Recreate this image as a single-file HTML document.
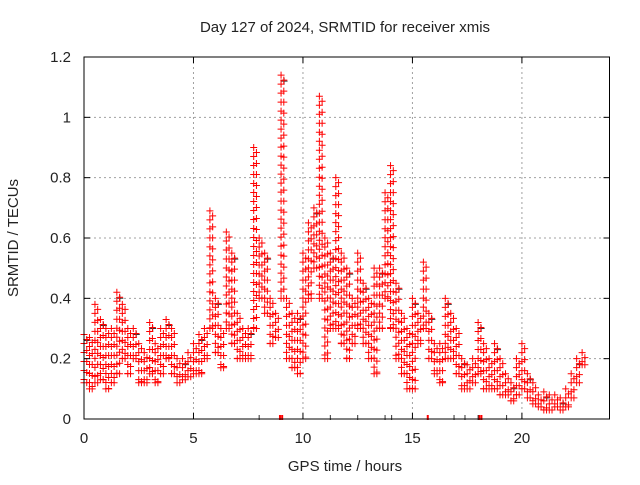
<!DOCTYPE html>
<html><head><meta charset="utf-8"><style>
body{margin:0;background:#fff}
svg text{font-family:"Liberation Sans",sans-serif;font-size:15px;fill:#222}
</style></head><body>
<svg id="chart" width="640" height="480" viewBox="0 0 640 480" xmlns="http://www.w3.org/2000/svg">
<text x="345" y="32" text-anchor="middle">Day 127 of 2024, SRMTID for receiver xmis</text>
<text transform="translate(18,238) rotate(-90)" text-anchor="middle">SRMTID / TECUs</text>
<text x="345" y="471" text-anchor="middle">GPS time / hours</text>
<g id="grid"></g>
<g id="marks"></g>
<rect x="84" y="57" width="525.5" height="362" fill="none" stroke="#000" stroke-width="1"/>
<g id="axes"></g>
</svg>
<script>
const hours=[0,0.25,0.5,0.75,1,1.25,1.5,1.75,2,2.25,2.5,2.75,3,3.25,3.5,3.75,4,4.25,4.5,4.75,5,5.25,5.5,5.75,6,6.25,6.5,6.75,7,7.25,7.5,7.75,8,8.25,8.5,8.75,9,9.25,9.5,9.75,10,10.25,10.5,10.75,11,11.25,11.5,11.75,12,12.25,12.5,12.75,13,13.25,13.5,13.75,14,14.25,14.5,14.75,15,15.25,15.5,15.75,16,16.25,16.5,16.75,17,17.25,17.5,17.75,18,18.25,18.5,18.75,19,19.25,19.5,19.75,20,20.25,20.5,20.75,21,21.25,21.5,21.75,22,22.25,22.5,22.75];
const lowVals=[0.12,0.1,0.12,0.13,0.1,0.12,0.15,0.2,0.15,0.2,0.12,0.12,0.15,0.12,0.15,0.2,0.15,0.12,0.13,0.14,0.15,0.15,0.2,0.3,0.22,0.17,0.3,0.25,0.2,0.2,0.2,0.3,0.4,0.35,0.25,0.27,0.4,0.2,0.17,0.15,0.2,0.4,0.5,0.4,0.2,0.3,0.3,0.25,0.2,0.25,0.3,0.25,0.2,0.15,0.3,0.4,0.3,0.2,0.15,0.1,0.1,0.25,0.3,0.2,0.15,0.12,0.2,0.2,0.15,0.1,0.1,0.12,0.15,0.1,0.1,0.1,0.08,0.08,0.06,0.08,0.1,0.07,0.05,0.04,0.03,0.03,0.04,0.03,0.04,0.07,0.12,0.18];
const highVals=[0.28,0.27,0.38,0.33,0.3,0.3,0.42,0.38,0.3,0.3,0.25,0.22,0.32,0.25,0.3,0.33,0.3,0.2,0.2,0.22,0.25,0.28,0.3,0.69,0.4,0.3,0.62,0.55,0.35,0.3,0.3,0.9,0.6,0.55,0.4,0.35,1.14,0.4,0.35,0.35,0.55,0.65,0.7,1.07,0.6,0.55,0.8,0.55,0.5,0.4,0.55,0.45,0.4,0.5,0.5,0.75,0.84,0.45,0.35,0.3,0.4,0.35,0.52,0.35,0.25,0.25,0.4,0.35,0.3,0.2,0.18,0.2,0.32,0.25,0.2,0.25,0.2,0.15,0.12,0.2,0.25,0.15,0.12,0.08,0.09,0.08,0.08,0.07,0.1,0.15,0.2,0.22];
const gapRed=[8.95,9.05,15.7,18.05,18.15];
const gapBlack=[8,11.25,12.5,13.75,14.05,16.9,17.4,18.0,19.3];
const yTicks=[0,0.2,0.4,0.6,0.8,1,1.2];
const xTicks=[0,5,10,15,20];
const NS='http://www.w3.org/2000/svg';
const X=h=>84+h*(525.5/24);
const Y=v=>419-v*(362/1.2);
function mk(tag,attrs,parent){const e=document.createElementNS(NS,tag);for(const k in attrs)e.setAttribute(k,attrs[k]);parent.appendChild(e);return e;}
const grid=document.getElementById('grid'),axes=document.getElementById('axes'),marks=document.getElementById('marks');
yTicks.forEach(v=>{
  if(v>0&&v<1.2){const l=mk('line',{x1:84,x2:609.5,y1:Y(v),y2:Y(v),stroke:'#a0a0a0','stroke-dasharray':'2,3'},grid);
  
  }
  mk('line',{x1:84,x2:90,y1:Y(v),y2:Y(v),stroke:'#000'},axes);
  mk('line',{x1:603.5,x2:609.5,y1:Y(v),y2:Y(v),stroke:'#000'},axes);
  const t=mk('text',{x:71,y:Y(v)+5,'text-anchor':'end'},axes);t.textContent=String(v);
  
  
});
xTicks.forEach(h=>{
  if(h>0){const l=mk('line',{x1:X(h),x2:X(h),y1:57,y2:419,stroke:'#a0a0a0','stroke-dasharray':'2,3'},grid);
  
  }
  mk('line',{x1:X(h),x2:X(h),y1:413,y2:419,stroke:'#000'},axes);
  mk('line',{x1:X(h),x2:X(h),y1:57,y2:63,stroke:'#000'},axes);
  const t=mk('text',{x:X(h),y:443,'text-anchor':'middle'},axes);t.textContent=String(h);
  
  
});
let d='',db='';
function plus(x,y){return 'M'+(x-3.5)+' '+y+'h7M'+x+' '+(y-3.5)+'v7';}
for(let i=0;i<hours.length;i++){
  const lo=lowVals[i],hi=highVals[i];
  const y1=Y(hi),y2=Y(lo);
  for(let s=0;s<2;s++){
    const x=X(hours[i]+s*0.125);
    const step=s?11:9;
    for(let y=y1+(s?5:0);y<=y2;y+=step){d+=plus(x,y);}
    d+=plus(x,y2);
  }
  if(i%3===0)db+=plus(X(hours[i])+3,y1+6);
}
const pb=mk('path',{d:db,stroke:'#333','stroke-width':1,fill:'none'},marks);


const pr=mk('path',{d:d,stroke:'#f00','stroke-width':1,fill:'none'},marks);


gapRed.forEach(h=>{const r=mk('rect',{x:X(h)-1,y:415,width:2,height:5,fill:'#f00'},marks);
  
  });
gapBlack.forEach(h=>{const r=mk('rect',{x:X(h)-0.5,y:415,width:1,height:5,fill:'#333'},marks);
  
  });
</script>
</body></html>
